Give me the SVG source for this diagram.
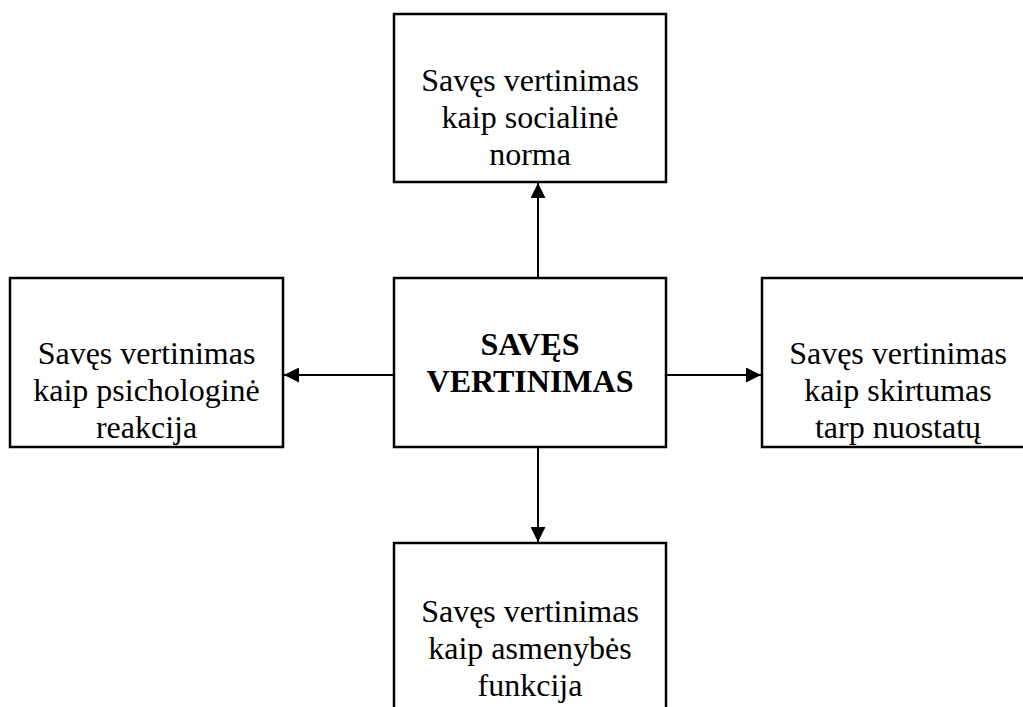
<svg xmlns="http://www.w3.org/2000/svg" width="1023" height="707" viewBox="0 0 1023 707">
<defs>
<style>
.box{fill:#fff;stroke:#000;stroke-width:2.5}
.t{font-family:"Liberation Serif","Times New Roman",serif;font-size:32px;text-anchor:middle;fill:#000}
.b{font-weight:bold}
.c{stroke:#000;stroke-width:2;fill:none}
</style>
<marker id="ah" viewBox="0 0 10 10" refX="10" refY="5" markerWidth="15" markerHeight="15" markerUnits="userSpaceOnUse" orient="auto">
<path d="M0,0 L10,5 L0,10 z" fill="#000"/>
</marker>
</defs>
<rect width="1023" height="707" fill="#fff"/>
<g id="connectors">
<line class="c" x1="538" y1="278" x2="538" y2="183" marker-end="url(#ah)"/>
<line class="c" x1="394" y1="375" x2="284" y2="375" marker-end="url(#ah)"/>
<line class="c" x1="666" y1="375" x2="761" y2="375" marker-end="url(#ah)"/>
<line class="c" x1="538" y1="447" x2="538" y2="542" marker-end="url(#ah)"/>
</g>
<g id="node-top">
<rect class="box" x="394" y="14" width="272" height="168"/>
<text class="t" x="530" y="91">Savęs vertinimas</text>
<text class="t" x="530" y="128">kaip socialinė</text>
<text class="t" x="530" y="165">norma</text>
</g>
<g id="node-center">
<rect class="box" x="394" y="278" width="272" height="169"/>
<text class="t b" x="530" y="355">SAVĘS</text>
<text class="t b" x="530" y="392">VERTINIMAS</text>
</g>
<g id="node-left">
<rect class="box" x="10" y="278" width="273" height="169"/>
<text class="t" x="146.5" y="364">Savęs vertinimas</text>
<text class="t" x="146.5" y="401">kaip psichologinė</text>
<text class="t" x="146.5" y="438">reakcija</text>
</g>
<g id="node-right">
<rect class="box" x="762" y="278" width="273" height="169"/>
<text class="t" x="898" y="364">Savęs vertinimas</text>
<text class="t" x="898" y="401">kaip skirtumas</text>
<text class="t" x="898" y="438">tarp nuostatų</text>
</g>
<g id="node-bottom">
<rect class="box" x="394" y="543" width="272" height="175"/>
<text class="t" x="530" y="622">Savęs vertinimas</text>
<text class="t" x="530" y="659">kaip asmenybės</text>
<text class="t" x="530" y="696">funkcija</text>
</g>
</svg>
